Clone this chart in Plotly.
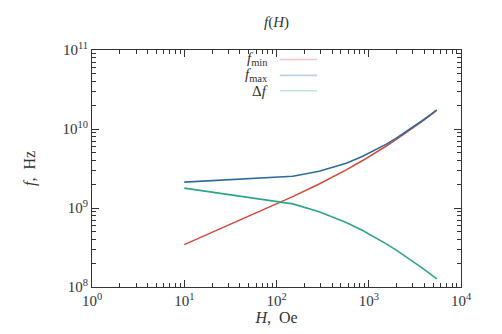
import plotly.graph_objects as go

# Field H (Oe) and frequencies (Hz)
H = [10, 150, 290, 430, 570, 850, 1130, 1550, 1970, 2530, 3090, 3790, 4630, 5470]
f_min = [0.344e9, 1.393e9, 2.017e9, 2.551e9, 3.041e9, 3.957e9, 4.827e9, 6.088e9,
         7.321e9, 8.941e9, 10.545e9, 12.537e9, 14.917e9, 17.289e9]
f_max = [2.128e9, 2.52e9, 2.912e9, 3.304e9, 3.696e9, 4.48e9, 5.264e9, 6.44e9,
         7.616e9, 9.184e9, 10.752e9, 12.712e9, 15.064e9, 17.416e9]
delta_f = [1.784e9, 1.127e9, 0.895e9, 0.753e9, 0.655e9, 0.523e9, 0.437e9, 0.352e9,
           0.295e9, 0.243e9, 0.207e9, 0.175e9, 0.147e9, 0.127e9]

x_tick_vals = [1, 10, 100, 1000, 10000]
x_tick_text = ["10<sup>0</sup>", "10<sup>1</sup>", "10<sup>2</sup>", "10<sup>3</sup>", "10<sup>4</sup>"]
y_tick_vals = [1e8, 1e9, 1e10, 1e11]
y_tick_text = ["10<sup>8</sup>", "10<sup>9</sup>", "10<sup>10</sup>", "10<sup>11</sup>"]

names = ["<i>f</i><sub>min</sub>", "<i>f</i><sub>max</sub>", "Δ<i>f</i>"]
colors = ["#d24a3c", "#2f6b98", "#2fa587"]
series = [f_min, f_max, delta_f]

FONT = "Liberation Serif"
TXT = "#333333"
AX = "#333333"

x_minor = [m * d for d in x_tick_vals[:-1] for m in range(2, 10)]
y_minor = [m * d for d in y_tick_vals[:-1] for m in range(2, 10)]

fig = go.Figure()
for name, ys, c in zip(names, series, colors):
    fig.add_trace(go.Scatter(x=H, y=ys, mode="lines", name=name,
                             line=dict(color=c, width=1.6), showlegend=False))
# transparent trace so the minor-tick overlay axes get drawn
fig.add_trace(go.Scatter(x=H[:1], y=f_min[:1], xaxis="x2", yaxis="y2",
                         mode="markers", marker=dict(opacity=0),
                         showlegend=False, hoverinfo="skip"))

# Custom legend (text then line sample), in paper coordinates
leg_y = [0.960, 0.893, 0.828]
for name, c, yy in zip(names, colors, leg_y):
    fig.add_annotation(x=0.482, y=yy, xref="paper", yref="paper", text=name,
                       showarrow=False, xanchor="right", yanchor="middle",
                       font=dict(family=FONT, size=15, color=TXT))
    fig.add_shape(type="line", xref="paper", yref="paper", x0=0.509, x1=0.610,
                  y0=yy, y1=yy, line=dict(color=c, width=1.6))

common = dict(type="log", showgrid=False, zeroline=False, showline=True,
              linecolor=AX, linewidth=1, mirror="ticks", ticks="inside",
              tickcolor=AX, tickwidth=1)

fig.update_layout(
    template="simple_white",
    width=502, height=334,
    margin=dict(l=84, r=49, t=42, b=55),
    paper_bgcolor="white", plot_bgcolor="white",
    title=dict(text="<i>f</i>(<i>H</i>)", x=0.535, xanchor="center", y=0.96,
               yanchor="middle", font=dict(family=FONT, size=15, color=TXT)),
    xaxis=dict(range=[0, 4], tickmode="array", tickvals=x_tick_vals,
               ticktext=x_tick_text, ticklen=7,
               tickfont=dict(family=FONT, size=15, color=TXT),
               title=dict(text="<i>H</i>,  Oe", standoff=0,
                          font=dict(family=FONT, size=16, color=TXT)), **common),
    yaxis=dict(range=[8, 11], tickmode="array", tickvals=y_tick_vals,
               ticktext=y_tick_text, ticklen=7,
               tickfont=dict(family=FONT, size=15, color=TXT),
               title=dict(text="<i>f</i>,  Hz", standoff=22,
                          font=dict(family=FONT, size=16, color=TXT)), **common),
    xaxis2=dict(range=[0, 4], overlaying="x", anchor="y2", side="bottom",
                tickmode="array", tickvals=x_minor, showticklabels=False,
                ticklen=4, **common),
    yaxis2=dict(range=[8, 11], overlaying="y", anchor="x2", side="left",
                tickmode="array", tickvals=y_minor, showticklabels=False,
                ticklen=4, **common),
)

fig.write_html("out.html")
